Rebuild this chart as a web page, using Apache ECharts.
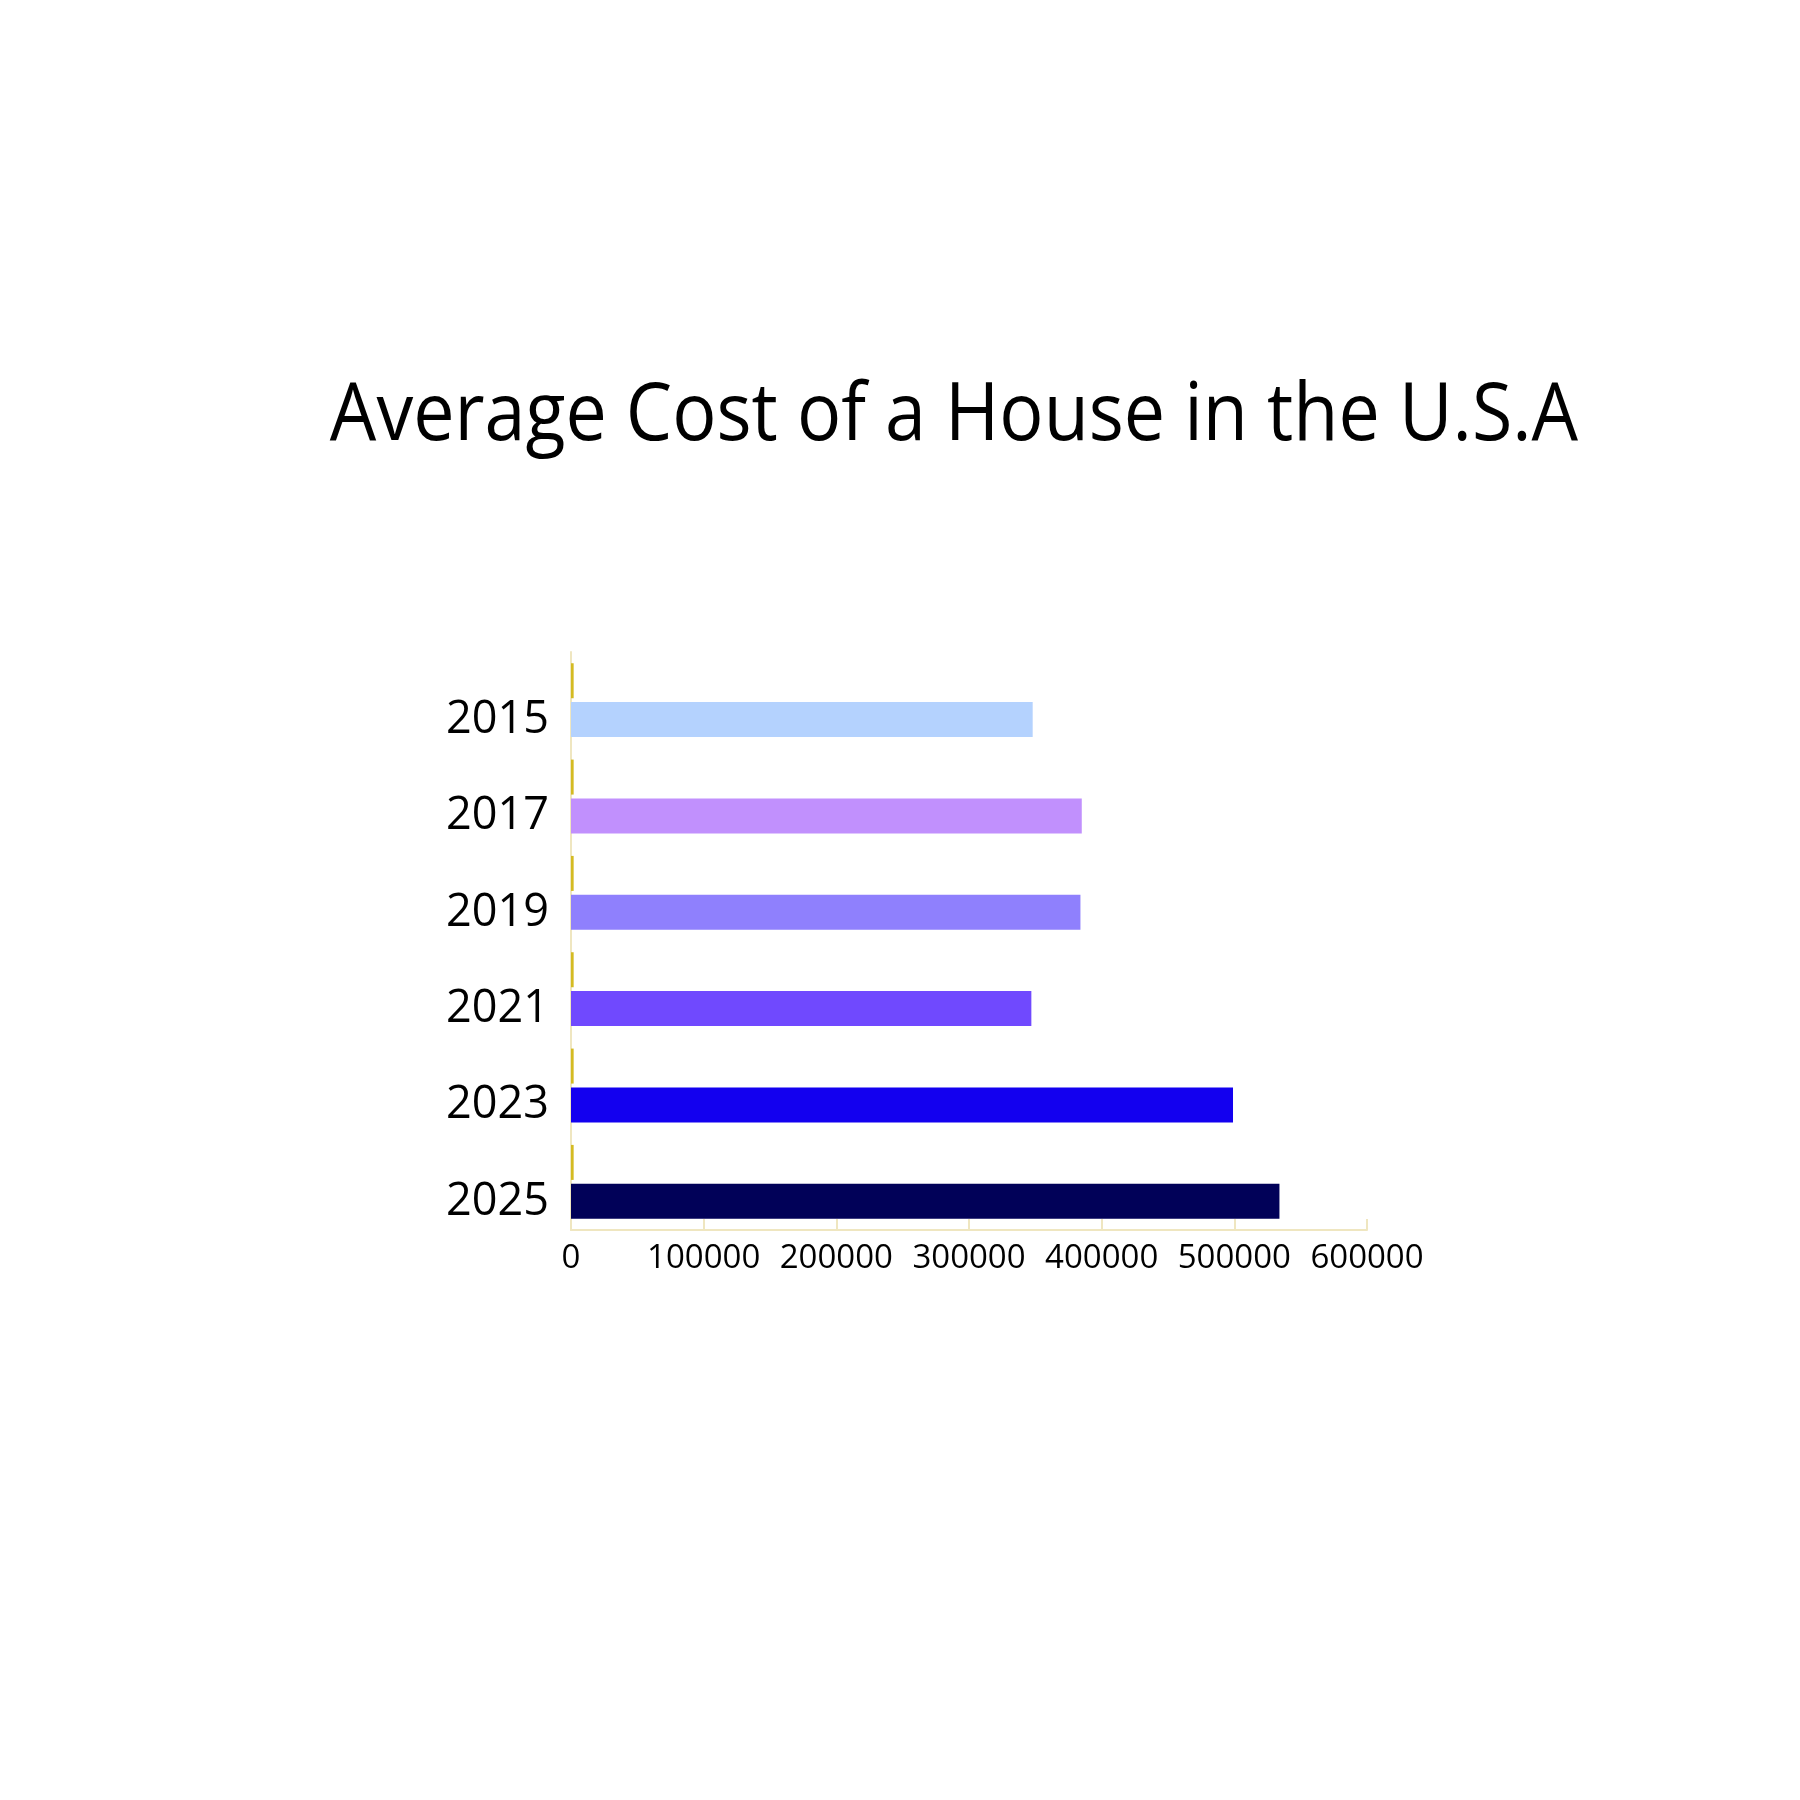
<!DOCTYPE html>
<html>
<head>
<meta charset="utf-8">
<script src="https://cdn.jsdelivr.net/npm/echarts@6/dist/echarts.min.js"></script>
<style>
  html, body { margin: 0; padding: 0; background: #fff; }
  #chart { width: 1800px; height: 1800px; }
</style>
</head>
<body>
<div id="chart"></div>
<script>
const years = ["2015", "2017", "2019", "2021", "2023", "2025"];
const houseCost = [348000, 385000, 384000, 347000, 499000, 534000];
const markerValues = [2000, 2000, 2000, 2000, 2000, 2000];
const barColors = ["#b4d2fe", "#c190fd", "#8f80fd", "#7049fe", "#1300ef", "#010158"];
const xTicks = [0, 100000, 200000, 300000, 400000, 500000, 600000];

const chart = echarts.init(document.getElementById("chart"));
const font = "Open Sans";

let option = {
  backgroundColor: "#ffffff",
  animation: false,
  graphic: [
    {
      type: "text",
      x: 954,
      y: 417,
      scaleX: 0.92,
      style: {
        text: "Average Cost of a House in the U.S.A",
        font: "80px 'Open Sans'",
        fill: "#000",
        align: "center",
        verticalAlign: "middle"
      }
    }
  ],
  grid: {
    left: 571,
    top: 652,
    right: 433,
    bottom: 570,
    containLabel: false
  },
  xAxis: {
    type: "value",
    min: xTicks[0],
    max: xTicks[xTicks.length - 1],
    interval: 100000,
    axisLine: { show: true, lineStyle: { color: "#efe6c0", width: 2 } },
    axisTick: { show: true, inside: true, length: 11, lineStyle: { color: "#efe6c0", width: 2 } },
    splitLine: { show: false },
    axisLabel: {
      color: "#000",
      fontFamily: font,
      fontSize: 33,
      margin: 12,
      formatter: v => String(v)
    }
  },
  yAxis: {
    type: "category",
    data: years,
    inverse: true,
    axisLine: { show: true, lineStyle: { color: "#efe6c0", width: 2 } },
    axisTick: { show: false },
    axisLabel: {
      color: "#000",
      fontFamily: font,
      fontSize: 45,
      margin: 22,
      verticalAlign: "top",
      lineHeight: 40
    }
  },
  series: [
    {
      name: "marker",
      type: "bar",
      data: markerValues,
      barWidth: 35,
      barGap: "11%",
      itemStyle: { color: "#d4bb22" }
    },
    {
      name: "cost",
      type: "bar",
      barWidth: 35,
      data: houseCost.map((v, i) => ({ value: v, itemStyle: { color: barColors[i] } }))
    }
  ]
};

chart.setOption(option);
</script>
</body>
</html>
